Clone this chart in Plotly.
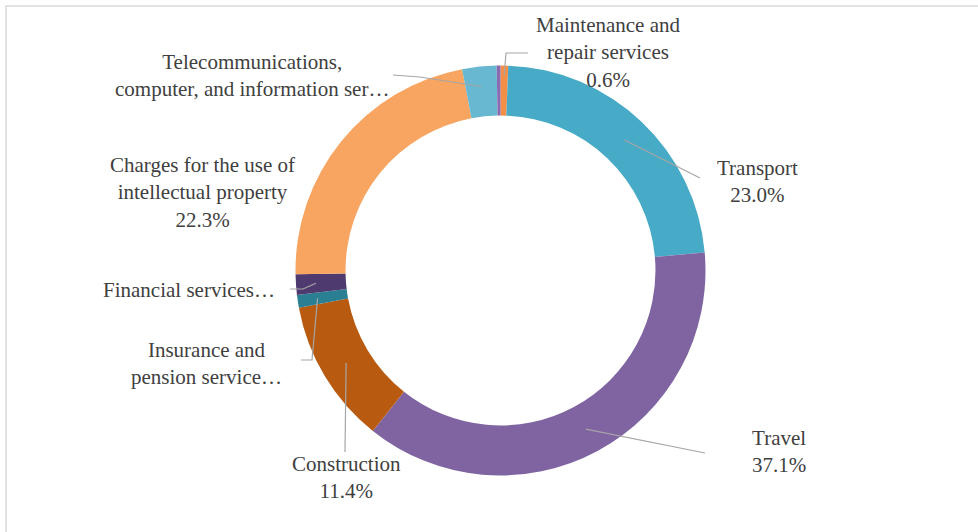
import math
import plotly.graph_objects as go

W, H = 978, 532

categories = [
    "Maintenance and repair services",
    "Transport",
    "Travel",
    "Construction",
    "Insurance and pension services",
    "Financial services",
    "Charges for the use of intellectual property",
    "Telecommunications, computer, and information services",
    "Other services",
]
values = [0.6, 23.0, 37.1, 11.4, 1.0, 1.6, 22.3, 2.7, 0.3]
colors = ["#F28E45", "#47AAC6", "#8064A2", "#B85B10", "#2A7F93",
          "#4E3A6E", "#F7A560", "#67B8D0", "#8A6BB0"]

label_texts = [
    "Maintenance and<br>repair services<br>0.6%",
    "Transport<br>23.0%",
    "Travel<br>37.1%",
    "Construction<br>11.4%",
    "Insurance and<br>pension service…",
    "Financial services…",
    "Charges for the use of<br>intellectual property<br>22.3%",
    "Telecommunications,<br>computer, and information ser…",
    None,
]
label_pos = [(608, 52), (757, 181), (779, 451), (346, 477), (206, 363),
             (189, 290), (202, 193), (252, 76), None]

# leader line: (radius, list of extra points after slice anchor)
leaders = [
    (195, [(506, 53), (528, 53)]),
    (180, [(700, 178)]),
    (180, [(705, 453)]),
    (180, [(345, 452)]),
    (185, [(312, 360), (301, 360)]),
    (185, [(303, 289), (290, 289)]),
    None,
    (185, [(420, 77), (393, 75)]),
    None,
]

cx, cy, R = 500.5, 270.5, 205.0
hole = 0.756

def X(px):
    return px / W

def Y(py):
    return 1 - py / H

fig = go.Figure(go.Pie(
    labels=categories,
    values=values,
    marker=dict(colors=colors, line=dict(width=0)),
    hole=hole,
    sort=False,
    direction="clockwise",
    rotation=0,
    textinfo="none",
    hoverinfo="label+percent",
    domain=dict(x=[X(cx - R), X(cx + R)], y=[Y(cy + R), Y(cy - R)]),
    showlegend=False,
))

total = sum(values)
cum = 0.0
shapes = []
annotations = []
for i, v in enumerate(values):
    mid = (cum + v / 2) / total * 2 * math.pi
    cum += v
    if leaders[i] is not None:
        r, pts = leaders[i]
        sx = cx + r * math.sin(mid)
        sy = cy - r * math.cos(mid)
        path = f"M {X(sx)},{Y(sy)}"
        for (px, py) in pts:
            path += f" L {X(px)},{Y(py)}"
        shapes.append(dict(type="path", xref="paper", yref="paper", path=path,
                           line=dict(color="#A6A6A6", width=1.2)))
    if label_texts[i] is not None:
        lx, ly = label_pos[i]
        annotations.append(dict(
            text=label_texts[i], x=X(lx), y=Y(ly), xref="paper", yref="paper",
            xanchor="center", yanchor="middle", showarrow=False, align="center",
            font=dict(family="Liberation Serif, Times New Roman, serif", size=21,
                      color="#404040")))

# outer border of chart area
shapes.append(dict(type="rect", xref="paper", yref="paper",
                   x0=X(6), y0=Y(560), x1=X(1000), y1=Y(6),
                   line=dict(color="#D9D9D9", width=1.5), fillcolor="rgba(0,0,0,0)"))

fig.update_layout(
    width=W, height=H,
    margin=dict(l=0, r=0, t=0, b=0),
    paper_bgcolor="white",
    plot_bgcolor="white",
    shapes=shapes,
    annotations=annotations,
)

fig.write_html("out.html")
